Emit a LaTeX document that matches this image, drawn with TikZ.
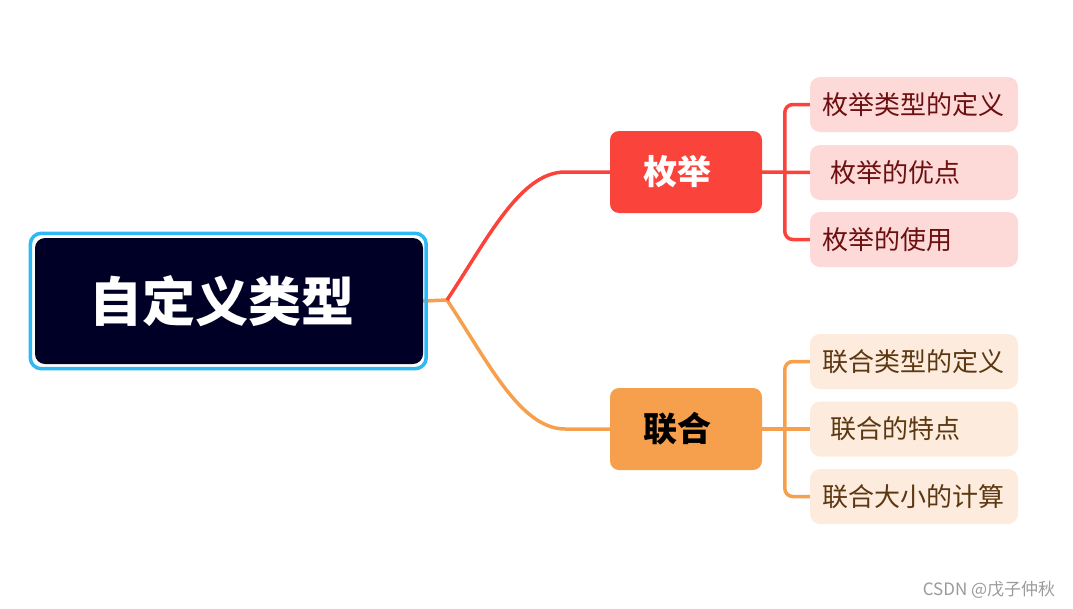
\documentclass[tikz,border=0pt]{standalone}
\usepackage{fontspec}
\setmainfont{Noto Sans CJK SC}
\usetikzlibrary{backgrounds,calc}
\definecolor{rootfill}{HTML}{000026}
\definecolor{rootring}{HTML}{2DB9F5}
\definecolor{enumred}{HTML}{F9433B}
\definecolor{unionor}{HTML}{F6A04E}
\definecolor{enumleaf}{HTML}{FDD9D7}
\definecolor{unionleaf}{HTML}{FDECDD}
\definecolor{enumtext}{HTML}{6B0F10}
\definecolor{uniontext}{HTML}{5C3812}
\definecolor{wmgray}{HTML}{9A9A9A}
\tikzset{
  rootbox/.style={fill=rootfill, rounded corners=10pt, minimum width=388pt, minimum height=126pt,
    inner sep=0pt, text=white, font=\fontsize{53}{60}\selectfont\bfseries},
  branchbox/.style={rounded corners=9pt, minimum width=152pt, minimum height=82pt, inner sep=0pt,
    font=\fontsize{34}{40}\selectfont\bfseries},
  enumbox/.style={branchbox, fill=enumred, text=white},
  unionbox/.style={branchbox, fill=unionor, text=black},
  leafbox/.style={rounded corners=10pt, minimum height=55pt, text width=184pt, inner xsep=12pt,
    inner ysep=0pt, align=left, font=\fontsize{26}{30}\selectfont},
  enumleafbox/.style={leafbox, fill=enumleaf, text=enumtext},
  unionleafbox/.style={leafbox, fill=unionleaf, text=uniontext},
  enumline/.style={draw=enumred, line width=3.5pt},
  unionline/.style={draw=unionor, line width=3.5pt},
}
\begin{document}
\begin{tikzpicture}[x=1pt,y=-1pt]
\useasboundingbox (0,0) rectangle (1073,608);
% nodes
\node[rootbox] (root) at (229,301) {\kern-14pt自定义类型};
\draw[rootring, line width=3.5pt, rounded corners=11pt]
  ($(root.north west)+(-4.5,-4.5)$) rectangle ($(root.south east)+(3,4.5)$);
\node[enumbox] (enum) at (686,172) {\kern-18pt枚举};
\node[unionbox] (union) at (686,429) {\kern-18pt联合};
\node[enumleafbox] (e1) at (914,104.5) {枚举类型的定义};
\node[enumleafbox] (e2) at (914,172.5) {\hspace{8pt}枚举的优点};
\node[enumleafbox] (e3) at (914,239.5) {枚举的使用};
\node[unionleafbox] (u1) at (914,361.5) {联合类型的定义};
\node[unionleafbox] (u2) at (914,429) {\hspace{8pt}联合的特点};
\node[unionleafbox] (u3) at (914,496.5) {联合大小的计算};
\node[text=wmgray, font=\fontsize{17}{20}\selectfont] (wm) at (989,590) {CSDN @戊子仲秋};
\coordinate (j) at (447,300);
% connectors
\begin{scope}[on background layer]
\draw[unionline] (root.east) -- (j);
\draw[unionline] (j) .. controls (487,360) and (520,429) .. (565,429) -- (union.west);
\draw[enumline] (j) .. controls (487,240) and (520,172) .. (565,172) -- (enum.west);
\draw[enumline] (enum.east) -- (e2.west);
\draw[enumline, rounded corners=8pt] (e1.west) -- ++(-25,0) |- (e3.west);
\draw[unionline] (union.east) -- (u2.west);
\draw[unionline, rounded corners=8pt] (u1.west) -- ++(-25,0) |- (u3.west);
\end{scope}
\end{tikzpicture}
\end{document}
